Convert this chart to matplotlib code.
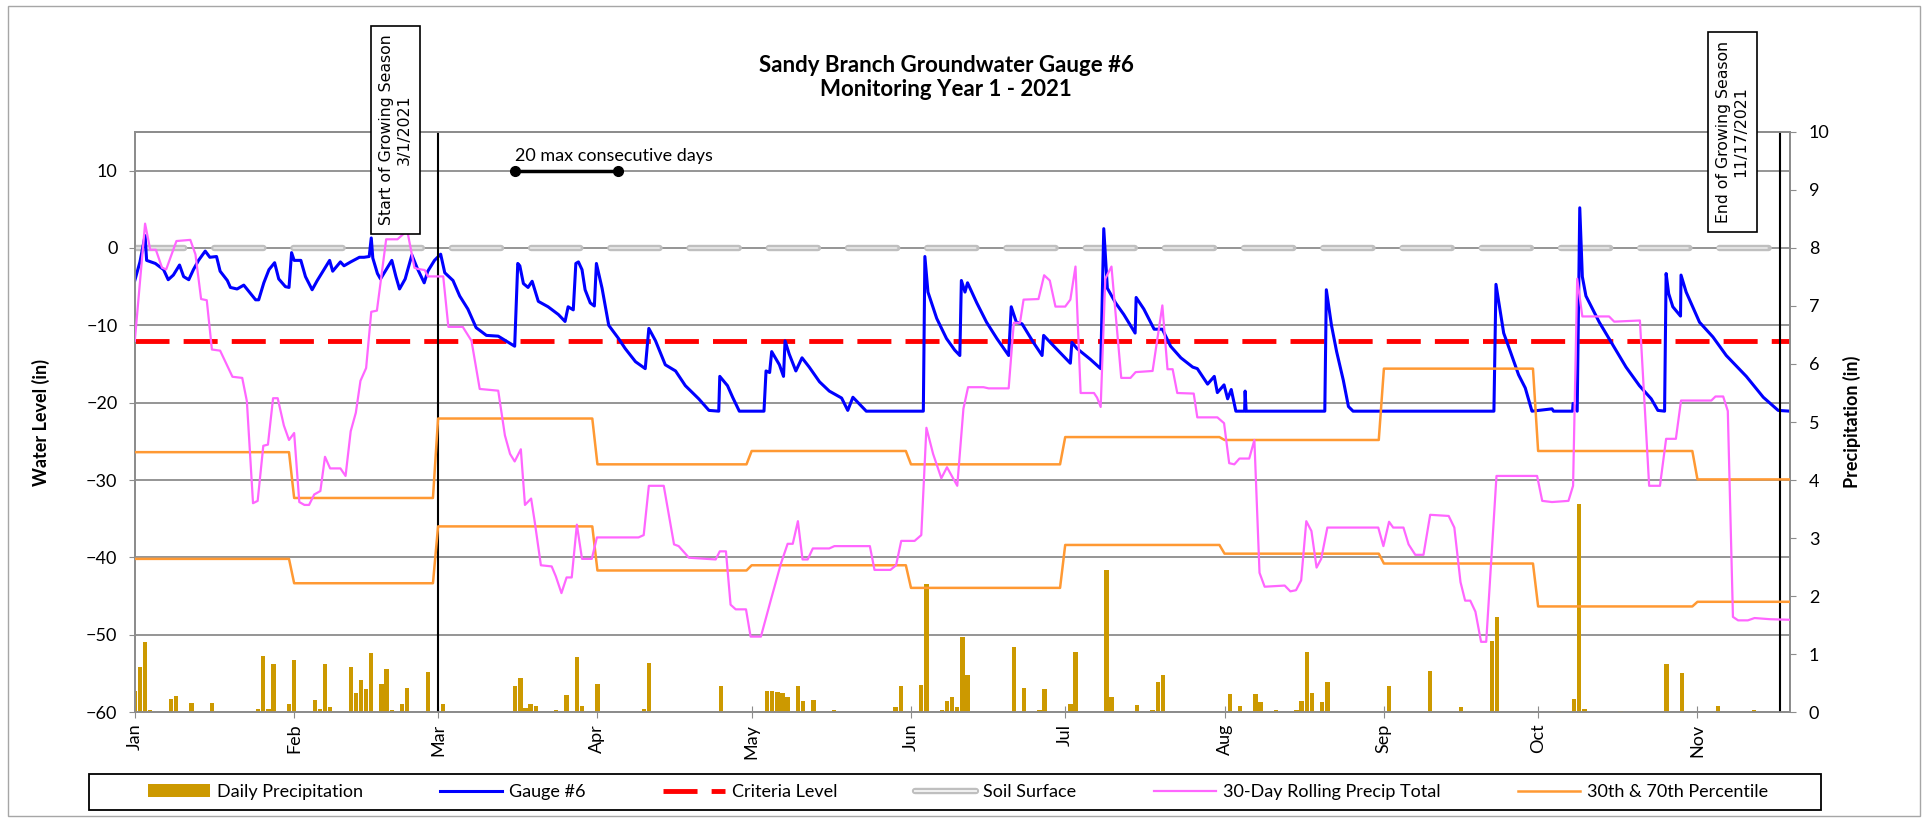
import numpy as np
import matplotlib
matplotlib.use("Agg")
import matplotlib.pyplot as plt
from matplotlib.lines import Line2D
from matplotlib.patches import Patch, Rectangle

plt.rcParams['font.family'] = ['Lato', 'DejaVu Sans']

# x positions are day of year, 0 = Jan 1 2021
month_days = [0, 31, 59, 90, 120, 151, 181, 212, 243, 273, 304]
month_labels = ['Jan', 'Feb', 'Mar', 'Apr', 'May', 'Jun', 'Jul', 'Aug',
                'Sep', 'Oct', 'Nov']

# Gauge #6 water level (in)
gauge_day = [0, 1, 2, 2.3, 4, 5.6, 6.5, 7.5, 8.7, 9.5, 10.5, 11.4, 12.4, 13.7,
             14.6, 15.9, 16.6, 18, 18.6, 19.9, 21.2, 22.4, 23.5, 24.1, 25.1,
             26.1, 27.2, 28, 29.3, 30, 30.5, 31, 32.3, 33.2, 34.5, 35.5, 36.8,
             37.9, 38.5, 40, 40.7, 42, 43.7, 44.6, 45.6, 46, 46.3, 47.2, 47.8,
             48.9, 50, 50.8, 51.5, 52.6, 53.9, 55, 56.3, 57, 58.3, 59.5, 60.3,
             61.9, 63.2, 64.8, 66.4, 68.4, 70.7, 73.9, 74.5, 74.9, 75.6, 76.5,
             77.3, 78.5, 80.4, 82.4, 83.7, 84.3, 85.3, 85.8, 86.3, 87, 87.6,
             88.6, 89.4, 89.8, 90.9, 92.2, 94.1, 95.4, 97.4, 99.3, 100, 101.3,
             103.2, 105.2, 107.1, 109.7, 111.7, 113.6, 113.8, 115.3, 116.3,
             117.6, 122.4, 122.8, 123.5, 123.9, 125.4, 126.2, 126.5, 127.3,
             128.6, 129.8, 131.2, 133.2, 135.1, 137.5, 138.7, 139.7, 141,
             142.3, 153.4, 153.7, 154.3, 156, 157.9, 159.5, 160.5, 160.8,
             161.5, 162, 163.8, 165.7, 167.7, 170, 170.5, 171.5, 172.6, 174.8,
             176.5, 176.8, 178.8, 182, 182.3, 183.3, 185.9, 187.9, 188.5,
             189.2, 190.8, 192.4, 194.6, 194.8, 196.3, 198.3, 199.9, 201.5,
             203.5, 205.8, 206.7, 208.7, 210, 210.6, 211.9, 212.6, 213.3,
             214.2, 215.9, 216, 216.2, 231.5, 231.8, 232.8, 233.8, 235.1,
             236.1, 237, 264.4, 264.8, 266.3, 267.6, 269.2, 270.5, 271.8,
             275.7, 276, 279.7, 279.8, 280.6, 281.1, 281.6, 282.3, 284.9,
             287.5, 290.1, 292.7, 295, 296.3, 297.6, 297.9, 298.4, 299.2,
             300.7, 300.8, 301.8, 304.4, 307, 309.6, 313.5, 316.8, 319.7, 322]
gauge_in = [-4.2, -1.8, 1.6, -1.6, -2.0, -2.8, -4.1, -3.5, -2.2, -3.7, -4.1,
            -2.8, -1.6, -0.4, -1.2, -1.1, -3.0, -4.2, -5.1, -5.3, -4.8, -5.8,
            -6.7, -6.7, -4.5, -2.8, -1.9, -4.0, -5.0, -5.1, -0.6, -1.6, -1.6,
            -3.7, -5.4, -4.2, -2.8, -1.6, -3.0, -1.8, -2.3, -1.8, -1.2, -1.2,
            -1.1, 1.3, -1.3, -3.3, -4.0, -2.8, -1.6, -3.7, -5.3, -4.0, -0.9,
            -2.7, -4.5, -3.0, -1.6, -0.8, -3.2, -4.2, -6.2, -7.9, -10.3,
            -11.3, -11.4, -12.7, -2.0, -2.3, -4.6, -5.1, -4.3, -6.9, -7.6,
            -8.6, -9.5, -7.6, -8.0, -2.0, -1.8, -2.8, -5.4, -7.1, -7.5, -2.0,
            -5.2, -10.0, -11.7, -13.0, -14.7, -15.6, -10.4, -12.0, -15.1,
            -15.9, -17.8, -19.5, -21.0, -21.1, -16.6, -17.8, -19.3, -21.1,
            -21.1, -15.9, -16.1, -13.4, -15.1, -16.6, -12.0, -13.7, -15.9,
            -14.2, -15.4, -17.3, -18.5, -19.4, -21.0, -19.3, -20.2, -21.1,
            -21.1, -1.1, -5.7, -9.1, -11.7, -13.2, -13.9, -4.2, -5.7, -4.5,
            -7.1, -9.6, -11.7, -13.9, -7.6, -9.6, -9.8, -12.2, -13.9, -11.3,
            -12.7, -14.9, -12.2, -13.0, -14.4, -15.6, 2.5, -5.2, -7.1, -8.6,
            -11.0, -6.4, -7.9, -10.5, -10.5, -12.7, -14.2, -15.4, -15.6,
            -17.6, -16.6, -18.7, -17.7, -19.5, -18.3, -21.1, -21.1, -18.5,
            -21.1, -21.1, -5.4, -10.0, -13.4, -17.1, -20.5, -21.1, -21.1,
            -4.7, -11.0, -13.4, -16.4, -18.1, -21.1, -20.8, -21.1, -21.1,
            -20.1, -21.1, 5.2, -3.7, -6.2, -9.6, -12.5, -15.4, -17.8, -19.5,
            -21.0, -21.1, -3.3, -5.9, -7.6, -8.8, -3.5, -5.7, -9.6, -11.5,
            -13.9, -16.6, -19.3, -21.0, -21.1]

# daily precipitation (in)
rain_day = [0, 1, 2, 3, 7, 8, 11, 15, 24, 25, 26, 27, 30, 31, 35, 36, 37, 38,
            42, 43, 44, 45, 46, 48, 49, 50, 52, 53, 57, 60, 74, 75, 76, 77, 78,
            82, 84, 86, 87, 90, 99, 100, 114, 123, 124, 125, 126, 127, 129,
            130, 132, 136, 148, 149, 153, 154, 157, 158, 159, 160, 161, 162,
            171, 173, 176, 177, 182, 183, 189, 190, 195, 198, 199, 200, 213,
            215, 218, 219, 222, 226, 227, 228, 229, 231, 232, 244, 252, 258,
            264, 265, 277, 280, 281, 282, 289, 298, 301, 308, 315]
rain_in = [0.37, 0.78, 1.20, 0.04, 0.23, 0.27, 0.16, 0.16, 0.06, 0.97, 0.05,
           0.82, 0.13, 0.90, 0.20, 0.06, 0.82, 0.08, 0.78, 0.33, 0.56, 0.39,
           1.02, 0.49, 0.75, 0.03, 0.13, 0.41, 0.69, 0.13, 0.45, 0.59, 0.07,
           0.13, 0.10, 0.04, 0.29, 0.94, 0.10, 0.49, 0.06, 0.85, 0.44, 0.37,
           0.37, 0.34, 0.32, 0.26, 0.45, 0.19, 0.21, 0.04, 0.08, 0.45, 0.47,
           2.21, 0.03, 0.19, 0.26, 0.08, 1.30, 0.63, 1.12, 0.42, 0.03, 0.39,
           0.13, 1.04, 2.45, 0.26, 0.12, 0.03, 0.52, 0.63, 0.31, 0.10, 0.31,
           0.18, 0.03, 0.03, 0.19, 1.03, 0.32, 0.18, 0.52, 0.45, 0.70, 0.08,
           1.22, 1.64, 0.02, 0.23, 3.58, 0.05, 0.02, 0.82, 0.67, 0.10, 0.03]

# 30-day rolling precipitation total (in)
roll_day = [0, 2, 3, 4.1, 5.3, 6.1, 8.1, 10.8, 11.8, 12.9, 14, 15, 16.6, 19,
            20.9, 21.8, 23, 23.9, 25, 25.9, 26.9, 27.8, 29, 30, 31, 32, 33,
            33.9, 34.9, 36.1, 37, 38, 40, 41, 42, 43, 43.9, 45, 46, 47.1, 48.9,
            51.1, 53, 54.4, 55, 56.4, 57, 60, 61, 63.8, 65.5, 67.1, 70.7, 72,
            73, 73.9, 75.1, 75.9, 77.1, 77.8, 79, 81.1, 81.9, 83, 84, 85, 86,
            87, 88.9, 89.9, 98, 99, 100, 102.9, 104.9, 105.8, 107.8, 113,
            113.8, 115, 115.9, 116.9, 118.9, 119.8, 121.8, 123.7, 125.7, 127,
            128, 129, 129.9, 130.9, 131.9, 135.1, 136.1, 143, 143.9, 147,
            148.1, 149.1, 151.7, 153, 154, 155.3, 156.9, 158, 160, 161.2,
            162.1, 165.1, 166.1, 170, 171, 172.2, 172.9, 175.8, 176.9, 178,
            179.1, 181, 182, 183, 184, 186.6, 187.2, 187.9, 188.8, 190, 191.9,
            193.7, 194.7, 198, 199.9, 200.9, 201.9, 202.8, 206, 206.7, 210.6,
            211.9, 212.9, 213.9, 214.9, 216.8, 217.8, 218.8, 219.8, 223.7,
            224.8, 225.9, 226.9, 227.9, 228.9, 229.9, 230.8, 232, 241.9,
            242.9, 244, 244.8, 246.8, 247.8, 249.1, 250.7, 252, 255.6, 256.7,
            257.9, 258.8, 259.8, 260.8, 261.9, 262.9, 264.9, 272.8, 273.8,
            275.7, 278.9, 279.8, 280.6, 281.6, 286.8, 287.8, 292.8, 294.6,
            296.7, 297.9, 299.8, 300.8, 306.7, 307.5, 309, 309.9, 310.9,
            311.9, 313.8, 315.1, 318.1, 322]
roll_in = [6.40, 8.42, 7.97, 7.97, 7.66, 7.63, 8.12, 8.14, 7.89, 7.12, 7.10,
           6.25, 6.23, 5.78, 5.76, 5.36, 3.60, 3.64, 4.59, 4.61, 5.41, 5.41,
           4.94, 4.69, 4.81, 3.62, 3.57, 3.57, 3.75, 3.81, 4.40, 4.20, 4.20,
           4.07, 4.84, 5.16, 5.71, 5.93, 6.90, 6.92, 8.15, 8.15, 8.30, 7.66,
           7.64, 7.62, 7.51, 7.51, 6.64, 6.64, 6.40, 5.57, 5.54, 4.77, 4.45,
           4.32, 4.53, 3.57, 3.68, 3.28, 2.53, 2.51, 2.34, 2.05, 2.32, 2.32,
           3.23, 2.64, 2.64, 3.01, 3.01, 3.05, 3.90, 3.90, 2.89, 2.86, 2.66,
           2.63, 2.77, 2.77, 1.85, 1.77, 1.77, 1.30, 1.30, 1.92, 2.56, 2.90,
           2.90, 3.29, 2.63, 2.63, 2.82, 2.82, 2.86, 2.86, 2.45, 2.45, 2.53,
           2.95, 2.95, 3.05, 4.90, 4.45, 4.03, 4.22, 3.90, 5.23, 5.60, 5.60,
           5.58, 5.58, 6.71, 6.71, 7.11, 7.12, 7.53, 7.44, 6.99, 6.99, 7.11,
           7.68, 5.50, 5.50, 5.42, 5.26, 7.47, 7.68, 5.76, 5.76, 5.86, 5.88,
           7.01, 5.91, 5.91, 5.50, 5.49, 5.08, 5.08, 4.98, 4.29, 4.27, 4.37,
           4.37, 4.69, 2.40, 2.16, 2.18, 2.08, 2.10, 2.27, 3.29, 3.12, 2.49,
           2.64, 3.18, 3.18, 2.86, 3.28, 3.18, 3.18, 2.89, 2.71, 2.71, 3.40,
           3.38, 3.18, 2.24, 1.92, 1.92, 1.73, 1.21, 1.21, 4.07, 4.07, 3.64,
           3.62, 3.64, 3.90, 7.47, 6.82, 6.82, 6.73, 6.75, 3.90, 3.90, 4.71,
           4.71, 5.37, 5.37, 5.44, 5.44, 5.19, 1.64, 1.58, 1.58, 1.62, 1.60,
           1.59]

# monthly 70th / 30th percentile of 30-day precip (in)
pct70 = [4.48, 3.69, 5.06, 4.27, 4.50, 4.27, 4.74, 4.69, 5.92, 4.50, 4.01]
pct30 = [2.64, 2.22, 3.20, 2.44, 2.53, 2.14, 2.88, 2.73, 2.56, 1.82, 1.90]

criteria_level = -12
soil_surface = 0
season_start = 59      # 3/1/2021
season_end = 320       # 11/17/2021
streak = [74, 94]      # 20 max consecutive days

W, H = 1929, 822
fig = plt.figure(figsize=(W / 100, H / 100), dpi=100)
ax = fig.add_axes([134.8 / W, 1 - 712 / H, 1655.2 / W, 580 / H])
ax2 = ax.twinx()

grey = '#8c8c8c'

# primary axis: water levels
ax.axhline(soil_surface, color='#bfbfbf', lw=4.6, dashes=(7.7, 4.7),
           dash_capstyle='round', zorder=3)
ax.axhline(soil_surface, color='#e3e3e3', lw=1.4, dashes=(25.3, 15.4),
           dash_capstyle='round', zorder=3)
ax.axhline(criteria_level, color='#ff0000', lw=3.5, dashes=(7, 2.9), zorder=3)
ax.plot(gauge_day, gauge_in, color='#0000ff', lw=2.2, zorder=4)
ax.axvline(season_start, color='black', lw=1.5, zorder=5)
ax.axvline(season_end, color='black', lw=1.5, zorder=5)
ax.plot(streak, [10, 10], color='black', lw=2.5, marker='o', ms=7, zorder=5)
ax.text(streak[0], 11.9, '20 max consecutive days', fontsize=13,
        va='center', ha='left')

# secondary axis: precipitation
days = np.arange(0, 323)
midx = np.searchsorted(month_days, days, side='right') - 1
ax2.bar(rain_day, rain_in, width=0.85, color='#cc9900', zorder=2)
ax2.plot(days, np.array(pct70)[midx], color='#ff9933', lw=1.8, zorder=3)
ax2.plot(days, np.array(pct30)[midx], color='#ff9933', lw=1.8, zorder=3)
ax2.plot(roll_day, roll_in, color='#ff66ff', lw=1.6, zorder=4)

ax.set_xlim(0, 322)
ax.set_ylim(-60, 15)
ax2.set_ylim(0, 10)
ax.set_yticks(range(-60, 11, 10))
ax2.set_yticks(range(0, 11))
ax.set_xticks(month_days)
ax.set_xticklabels(month_labels, rotation=90)
ax.grid(axis='y', color=grey, lw=1.3)
ax.set_axisbelow(True)

for a in (ax, ax2):
    for s in a.spines.values():
        s.set_color(grey)
        s.set_linewidth(1.3)
ax.tick_params(axis='y', direction='out', length=4.5, color=grey,
               labelsize=13, pad=8)
ax.tick_params(axis='x', direction='inout', length=9, color=grey,
               labelsize=13, pad=4)
ax2.tick_params(axis='y', direction='out', length=4.5, color=grey,
                labelsize=13, pad=9)

ax.set_ylabel('Water Level (in)', fontsize=13, fontweight='bold')
ax.yaxis.set_label_coords((50 - 134.8) / 1655.2, 0.5)
ax2.set_ylabel('Precipitation (in)', fontsize=13, fontweight='bold')
ax2.yaxis.set_label_coords((1843 - 134.8) / 1655.2, 0.5)

fig.text(946 / W, 1 - 65 / H, 'Sandy Branch Groundwater Gauge #6',
         ha='center', va='center', fontsize=16, fontweight='bold')
fig.text(946 / W, 1 - 90 / H, 'Monitoring Year 1 - 2021',
         ha='center', va='center', fontsize=16, fontweight='bold')

box = dict(boxstyle='square,pad=0.55', fc='white', ec='black', lw=1.2)
fig.text(395.5 / W, 1 - 130 / H, 'Start of Growing Season\n3/1/2021',
         rotation=90, ha='center', va='center', multialignment='center',
         family='DejaVu Sans', fontsize=11.3, bbox=box)
fig.text(1732.5 / W, 1 - 132 / H, 'End of Growing Season\n11/17/2021',
         rotation=90, ha='center', va='center', multialignment='center',
         family='DejaVu Sans', fontsize=11.3, bbox=box)

# legend
handles = [
    Patch(facecolor='#cc9900'),
    Line2D([], [], color='#0000ff', lw=2.2),
    Line2D([], [], color='#ff0000', lw=3.5, dashes=(7, 2.9)),
    (Line2D([], [], color='#bfbfbf', lw=4.6, solid_capstyle='round'),
     Line2D([], [], color='#f2f2f2', lw=1.4)),
    Line2D([], [], color='#ff66ff', lw=1.6),
    Line2D([], [], color='#ff9933', lw=1.8),
]
labels = ['Daily Precipitation', 'Gauge #6', 'Criteria Level', 'Soil Surface',
          '30-Day Rolling Precip Total', '30th & 70th Percentile']
fig.legend(handles, labels, loc='center', bbox_to_anchor=(958 / W, 1 - 792 / H),
           ncol=6, frameon=False, fontsize=13, handlelength=3.4,
           columnspacing=4.3, handletextpad=0.4)
fig.patches.append(Rectangle((89 / W, 1 - 810 / H), 1732 / W, 36 / H,
                             transform=fig.transFigure, fill=False,
                             ec='black', lw=1.3))
fig.patches.append(Rectangle((8 / W, 1 - 816 / H), 1912 / W, 810 / H,
                             transform=fig.transFigure, fill=False,
                             ec='#a6a6a6', lw=1))

fig.savefig('out.png', dpi=100)
